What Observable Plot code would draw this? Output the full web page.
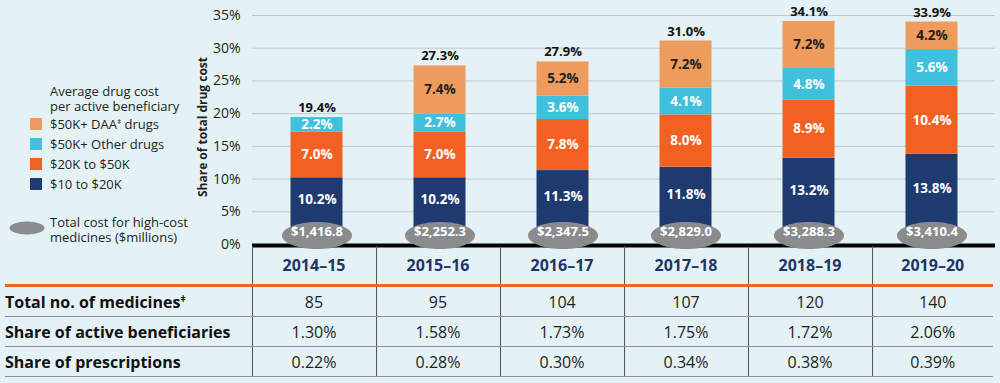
<!DOCTYPE html>
<html>
<head>
<meta charset="utf-8">
<script src="https://cdn.jsdelivr.net/npm/d3@7"></script>
<script src="https://cdn.jsdelivr.net/npm/@observablehq/plot@0.6"></script>
<style>
  html, body { margin: 0; padding: 0; background: #e4f2f6; }
  body { font-family: "Open Sans", sans-serif; color: #231f20; }
  #wrap { position: relative; width: 1000px; height: 383px; overflow: hidden; }
  #chart { position: absolute; left: 0; top: 0; }
  #legend { position: absolute; left: 0; top: 0; font-size: 13px; line-height: 14.5px; }
  .lg { position: absolute; white-space: nowrap; }
  .sw { position: absolute; width: 12px; height: 12px; }
  sup { font-size: 0.55em; vertical-align: 0.7em; line-height: 0; }
  #tbl { position: absolute; left: 5px; top: 246px; width: 988px; border-collapse: collapse; table-layout: fixed; }
  #tbl th, #tbl td { padding: 0; text-align: center; }
  #tbl th { height: 38px; font-size: 16px; font-weight: 700; color: #1f3566; border-bottom: 3px solid #f26522; }
  #tbl td { height: 29px; font-size: 16px; color: #231f20; border-bottom: 1px solid #8d9295; }
  #tbl th + th, #tbl td + td { border-left: 1px solid #555; }
  #tbl td.lab { text-align: left; font-weight: 700; font-size: 16px; color: #111; }
</style>
</head>
<body>
<div id="wrap">
  <div id="chart"></div>
  <div id="legend"></div>
  <table id="tbl"></table>
</div>
<script>
// ---- data ----
const years = ["2014–15", "2015–16", "2016–17", "2017–18", "2018–19", "2019–20"];
const seriesNames = ["$10 to $20K", "$20K to $50K", "$50K+ Other drugs", "$50K+ DAA drugs"];
const seriesColors = ["#1e3a6f", "#f26122", "#40c0dc", "#ee9b5e"];
const low = [10.2, 10.2, 11.3, 11.8, 13.2, 13.8];
const mid = [7.0, 7.0, 7.8, 8.0, 8.9, 10.4];
const other = [2.2, 2.7, 3.6, 4.1, 4.8, 5.6];
const daa = [null, 7.4, 5.2, 7.2, 7.2, 4.2];
const totals = [19.4, 27.3, 27.9, 31.0, 34.1, 33.9];
const totalCost = [1416.8, 2252.3, 2347.5, 2829.0, 3288.3, 3410.4];
const yTicks = [0, 5, 10, 15, 20, 25, 30, 35];
const medicines = [85, 95, 104, 107, 120, 140];
const shareBenef = [1.30, 1.58, 1.73, 1.75, 1.72, 2.06];
const sharePresc = [0.22, 0.28, 0.30, 0.34, 0.38, 0.39];

// ---- build stacked table ----
const seriesValues = [low, mid, other, daa];
const long = [];
years.forEach((y, yi) => {
  let acc = 0;
  seriesNames.forEach((s, si) => {
    const v = seriesValues[si][yi];
    if (v != null) {
      long.push({year: y, series: s, value: v, si, y1: acc, y2: acc + v, ym: acc + v / 2});
      acc += v;
    }
  });
});
const perYear = years.map((y, i) => ({year: y, total: totals[i], cost: totalCost[i]}));
const costFmt = d3.format(",.1f");
const pct = d => d.value.toFixed(1) + "%";

// ellipse symbol
const ellipse = {
  draw(ctx, size) {
    const rx = 35, ry = 13.5, k = 0.5523;
    ctx.moveTo(rx, 0);
    ctx.bezierCurveTo(rx, ry * k, rx * k, ry, 0, ry);
    ctx.bezierCurveTo(-rx * k, ry, -rx, ry * k, -rx, 0);
    ctx.bezierCurveTo(-rx, -ry * k, -rx * k, -ry, 0, -ry);
    ctx.bezierCurveTo(rx * k, -ry, rx, -ry * k, rx, 0);
    ctx.closePath();
  }
};

const font = "'Open Sans', sans-serif";
const chart = Plot.plot({
  width: 1000,
  height: 250,
  marginLeft: 252,
  marginRight: 5,
  marginTop: 15,
  marginBottom: 6,
  style: {background: "transparent", fontFamily: font, fontSize: "14px", color: "#231f20", overflow: "visible"},
  x: {domain: years, padding: 0, axis: null},
  y: {domain: [0, 35], axis: null},
  color: {domain: seriesNames, range: seriesColors},
  marks: [
    Plot.ruleY(yTicks.filter(d => d > 0), {stroke: "#c3c8cb", strokeWidth: 1}),
    Plot.axisY(yTicks, {tickSize: 0, tickPadding: 12, tickFormat: d => d + "%", fontSize: 14, fill: "#231f20"}),
    Plot.text(["Share of total drug cost"], {frameAnchor: "left", textAnchor: "middle", rotate: -90, dx: -49, dy: -3, fontWeight: 700, fontSize: 12, fill: "#231f20"}),
    Plot.rectY(long, {x: "year", y1: "y1", y2: "y2", fill: "series", insetLeft: 35.5, insetRight: 35.5}),
    Plot.ruleY([0], {stroke: "#000", strokeWidth: 4, dy: 1}),
    Plot.text(long.filter(d => d.si === 0), {x: "year", y: "ym", text: pct, fill: "white", fontWeight: 700, fontSize: 13.5, dy: -11}),
    Plot.text(long.filter(d => d.si === 1 || d.si === 2), {x: "year", y: "ym", text: pct, fill: "white", fontWeight: 700, fontSize: 13.5}),
    Plot.text(long.filter(d => d.si === 3), {x: "year", y: "ym", text: pct, fill: "#231f20", fontWeight: 700, fontSize: 13.5}),
    Plot.text(perYear, {x: "year", y: "total", text: d => d.total.toFixed(1) + "%", dy: -10, fontWeight: 700, fontSize: 13, fill: "#111"}),
    Plot.dot(perYear, {x: "year", frameAnchor: "bottom", dy: -9, symbol: ellipse, r: 10, fill: "#898b8d", stroke: "none"}),
    Plot.text(perYear, {x: "year", frameAnchor: "bottom", dy: -9, text: d => "$" + costFmt(d.cost), fill: "white", fontWeight: 700, fontSize: 13})
  ]
});
document.getElementById("chart").appendChild(chart);

// ---- legend ----
const legend = document.getElementById("legend");
let html = `<div class="lg" style="left:50px;top:84px">Average drug cost<br>per active beneficiary</div>`;
const legendOrder = [3, 2, 1, 0];
const legendY = [124, 144, 164, 184];
legendOrder.forEach((si, i) => {
  const label = si === 3 ? "$50K+ DAA<sup>ǂ</sup> drugs" : seriesNames[si];
  html += `<div class="sw" style="left:30px;top:${legendY[i] - 6}px;background:${seriesColors[si]}"></div>`;
  html += `<div class="lg" style="left:50px;top:${legendY[i] - 7}px">${label}</div>`;
});
html += `<svg class="lg" style="left:9px;top:221px" width="36" height="14"><ellipse cx="18" cy="7" rx="17.5" ry="6.5" fill="#898b8d"/></svg>`;
html += `<div class="lg" style="left:50px;top:215px">Total cost for high-cost<br>medicines ($millions)</div>`;
legend.innerHTML = html;

// ---- table ----
const tbl = document.getElementById("tbl");
let t = `<colgroup><col style="width:247px">` + years.map((_, i) => `<col style="width:${i === 5 ? 121 : 124}px">`).join("") + `</colgroup>`;
t += `<tr><th></th>` + years.map(y => `<th>${y}</th>`).join("") + `</tr>`;
const rows = [
  ["Total no. of medicines<sup>ǂ</sup>", medicines.map(d => String(d))],
  ["Share of active beneficiaries", shareBenef.map(d => d.toFixed(2) + "%")],
  ["Share of prescriptions", sharePresc.map(d => d.toFixed(2) + "%")]
];
rows.forEach(([lab, vals]) => {
  t += `<tr><td class="lab">${lab}</td>` + vals.map(v => `<td>${v}</td>`).join("") + `</tr>`;
});
tbl.innerHTML = t;
</script>
</body>
</html>
